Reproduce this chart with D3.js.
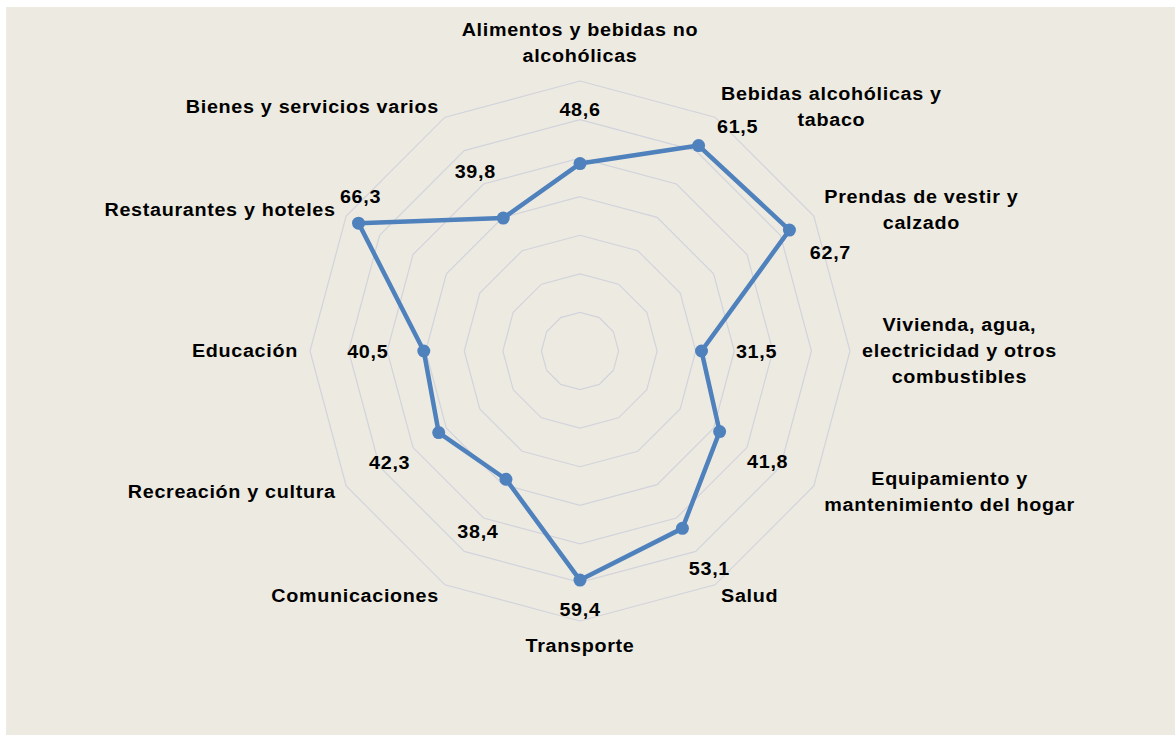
<!DOCTYPE html>
<html>
<head>
<meta charset="utf-8">
<script src="https://cdn.jsdelivr.net/npm/d3@7"></script>
<style>
  html, body { margin: 0; padding: 0; background: #fff; }
  svg { display: block; }
</style>
</head>
<body>
<div id="chart"></div>
<script>
// Radar chart: índice por división de gasto

// --- data ---
const categories = [
    ["Alimentos y bebidas no", "alcohólicas"],
    ["Bebidas alcohólicas y", "tabaco"],
    ["Prendas de vestir y", "calzado"],
    ["Vivienda, agua,", "electricidad y otros", "combustibles"],
    ["Equipamiento y", "mantenimiento del hogar"],
    ["Salud"],
    ["Transporte"],
    ["Comunicaciones"],
    ["Recreación y cultura"],
    ["Educación"],
    ["Restaurantes y hoteles"],
    ["Bienes y servicios varios"]
];
const values = [48.6, 61.5, 62.7, 31.5, 41.8, 53.1, 59.4, 38.4, 42.3, 40.5, 66.3, 39.8];
const gridLevels = [10, 20, 30, 40, 50, 60, 70];

// data label nudges (px, relative to each point), as placed in the original
const labelNudge = [
    [0, -54], [39, -19], [41, 23], [55, 1], [48, 30], [27, 40],
    [0, 30], [-28, 52], [-49, 30], [-56, 1], [2, -26], [-28, -46]
];

// --- layout ---
const W = 1175, H = 735;
const cx = 580, cy = 351;
const R = 270;
const font = "'Liberation Sans', Arial, Helvetica, sans-serif";
const fontSize = "17.5px";
const sx = 1.13;   // the original text is set a bit wide
const ls = "0.6px";

const svg = d3.select("#chart").append("svg")
    .attr("width", W)
    .attr("height", H);

// panel background
svg.append("rect")
    .attr("x", 6).attr("y", 7)
    .attr("width", W - 6).attr("height", H - 7)
    .attr("fill", "#edebe1");

const g = svg.append("g").attr("transform", `translate(${cx},${cy})`);

const n = categories.length;
const angle = d3.scaleLinear().domain([0, n]).range([0, 2 * Math.PI]);
const r = d3.scaleLinear().domain([0, 70]).range([0, R]);

const pt = (i, v) => [Math.sin(angle(i)) * r(v), -Math.cos(angle(i)) * r(v)];

// grid polygons
const ring = d3.line().curve(d3.curveLinearClosed);
g.selectAll(".grid")
    .data(gridLevels)
    .join("path")
    .attr("class", "grid")
    .attr("d", lvl => ring(d3.range(n).map(i => pt(i, lvl))))
    .attr("fill", "none")
    .attr("stroke", "#d2d3dc")
    .attr("stroke-width", 1.2);

// series line
g.append("path")
    .attr("d", ring(values.map((v, i) => pt(i, v))))
    .attr("fill", "none")
    .attr("stroke", "#4f81bd")
    .attr("stroke-width", 4.5)
    .attr("stroke-linejoin", "round");

// markers
g.selectAll(".dot")
    .data(values)
    .join("circle")
    .attr("class", "dot")
    .attr("cx", (v, i) => pt(i, v)[0])
    .attr("cy", (v, i) => pt(i, v)[1])
    .attr("r", 6.5)
    .attr("fill", "#4f81bd");

// value labels
g.selectAll(".val")
    .data(values)
    .join("text")
    .attr("class", "val")
    .attr("transform", (v, i) => {
        const p = pt(i, v);
        return `translate(${p[0] + labelNudge[i][0]},${p[1] + labelNudge[i][1]}) scale(${sx},1)`;
    })
    .attr("dy", "0.36em")
    .attr("text-anchor", "middle")
    .attr("font-family", font)
    .attr("font-weight", "bold")
    .attr("font-size", fontSize)
    .attr("letter-spacing", ls)
    .attr("fill", "#000")
    .text(v => d3.format(".1f")(v).replace(".", ","));

// category labels
const lineH = 26;
const gap = 12;
categories.forEach((lines, i) => {
    const a = angle(i);
    const s = Math.sin(a), c = Math.cos(a);
    const ax = s * (R + gap), ay = -c * (R + gap);

    const t = g.append("text")
        .attr("font-family", font)
        .attr("font-weight", "bold")
        .attr("font-size", fontSize)
        .attr("letter-spacing", ls)
        .attr("fill", "#000")
        .attr("text-anchor", "middle");

    const spans = lines.map(l => t.append("tspan").text(l));
    const maxW = sx * d3.max(spans, sp => sp.node().getComputedTextLength());

    let midX;
    if (Math.abs(s) < 1e-6) midX = ax;
    else if (s > 0) midX = ax + maxW / 2;
    else midX = ax - maxW / 2;

    const blockH = lines.length * lineH;
    let top;
    if (Math.abs(s) < 1e-6 && c > 0) top = ay - blockH;
    else if (Math.abs(s) < 1e-6 && c < 0) top = ay;
    else top = ay - blockH / 2;

    t.attr("transform", `translate(${midX},${top}) scale(${sx},1)`);
    spans.forEach((sp, k) => {
        sp.attr("x", 0)
          .attr("y", lineH * k + lineH / 2)
          .attr("dy", "0.36em");
    });
});
</script>
</body>
</html>
